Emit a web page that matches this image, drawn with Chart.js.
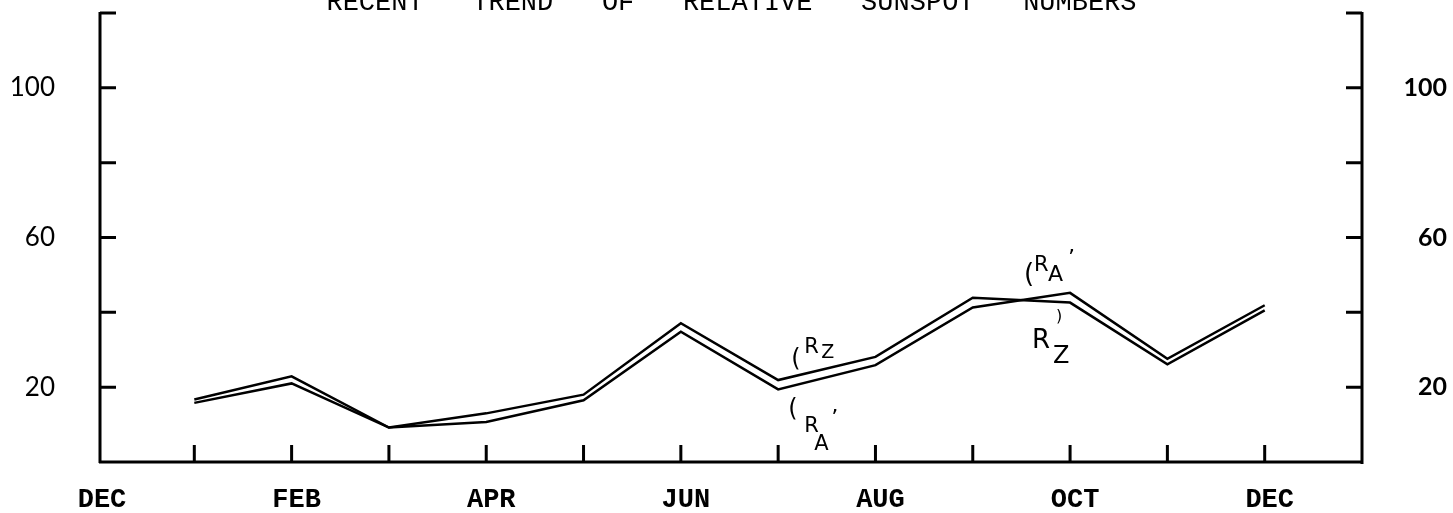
<!DOCTYPE html>
<html>
<head>
<meta charset="utf-8">
<script src="https://cdn.jsdelivr.net/npm/chart.js@4.4.1/dist/chart.umd.min.js"></script>
<style>
    html, body { margin: 0; padding: 0; background: #fff; }
    #wrap { width: 1453px; height: 513px; }
</style>
</head>
<body>
<div id="wrap"><canvas id="sunspotChart" width="1453" height="513"></canvas></div>
<script>
// data (months 1 = JAN ... 12 = DEC)
const monthPos = [1, 2, 3, 4, 5, 6, 7, 8, 9, 10, 11, 12];
const rZ = [16.7, 22.9, 9.2, 13.0, 18.0, 37.1, 21.9, 28.1, 43.9, 42.6, 26.1, 40.5];
const rA = [15.8, 21.0, 9.2, 10.7, 16.5, 34.8, 19.4, 25.9, 41.3, 45.2, 27.6, 41.9];

// tick labels
const monthLabels = ['DEC', 'FEB', 'APR', 'JUN', 'AUG', 'OCT', 'DEC'];   // at 0, 2, 4 ... 12
const yLabelValues = [20, 60, 100];
const yTickValues = [20, 40, 60, 80, 100, 120];
const titleText = 'RECENT   TREND   OF   RELATIVE   SUNSPOT   NUMBERS';

const toPoints = (ys) => monthPos.map((m, i) => ({ x: m, y: ys[i] }));

// axes frame with inward ticks + title + hand written labels
const framePlugin = {
    id: 'frame',
    afterDraw(chart) {
        const ctx = chart.ctx;
        const area = chart.chartArea;
        const xs = chart.scales.x;
        const ys = chart.scales.y;
        const L = area.left + 3, R = area.right, B = area.bottom;
        const T = ys.getPixelForValue(120);
        ctx.save();
        ctx.strokeStyle = '#000';
        ctx.lineWidth = 3;
        ctx.lineCap = 'butt';
        ctx.beginPath();
        ctx.moveTo(L, T - 1);
        ctx.lineTo(L, B + 1);
        ctx.moveTo(L - 1, B);
        ctx.lineTo(R + 1, B);
        ctx.moveTo(R, B + 2);
        ctx.lineTo(R, T - 1);
        ctx.stroke();

        ctx.beginPath();
        yTickValues.forEach(v => {
            const y = ys.getPixelForValue(v);
            ctx.moveTo(L, y);
            ctx.lineTo(L + 16, y);
            ctx.moveTo(R, y);
            ctx.lineTo(R - 16, y);
        });
        monthPos.forEach(m => {
            const x = xs.getPixelForValue(m);
            ctx.moveTo(x, B);
            ctx.lineTo(x, B - 17);
        });
        ctx.stroke();

        // title (partly cut off at the top, like the scan)
        ctx.fillStyle = '#000';
        ctx.font = '27px "Liberation Mono", monospace';
        ctx.textAlign = 'center';
        ctx.textBaseline = 'alphabetic';
        ctx.fillText(titleText, (area.left + area.right) / 2 + 2, 10);

        // hand written series labels
        ctx.textAlign = 'left';
        const txt = (s, x, y, size) => {
            ctx.font = size + 'px "DejaVu Sans", sans-serif';
            ctx.fillText(s, x, y);
        };
        const jx = xs.getPixelForValue(7);
        const jy = ys.getPixelForValue(rZ[6]);
        txt('(', jx + 13, jy - 14, 24);
        txt('R', jx + 26, jy - 27, 21);
        txt('Z', jx + 43, jy - 22, 19);
        txt('(', jx + 10, jy + 36, 24);
        txt('R', jx + 26, jy + 52, 21);
        txt('A', jx + 36, jy + 70, 21);
        txt('\u2019', jx + 53, jy + 45, 22);

        const ox = xs.getPixelForValue(10);
        const oy = ys.getPixelForValue(rA[9]);
        txt('(', ox - 46, oy - 11, 26);
        txt('R', ox - 36, oy - 22, 21);
        txt('A', ox - 22, oy - 12, 22);
        txt('\u2019', ox - 2, oy - 28, 22);
        txt(')', ox - 14, oy + 28, 16);
        txt('R', ox - 38, oy + 55, 26);
        txt('Z', ox - 17, oy + 70, 24);
        ctx.restore();
    }
};

function createSunspotChart() {
    const ctx = document.getElementById('sunspotChart');
    if (!ctx) return;

    const lineStyle = {
        borderColor: '#000',
        backgroundColor: '#000',
        borderWidth: 2.5,
        pointRadius: 0,
        tension: 0,
        fill: false
    };

    // grid hidden, but tickLength keeps the label offset from the axis
    const hiddenGrid = (len) => ({ display: false, drawTicks: true, tickLength: len });

    new Chart(ctx, {
        type: 'line',
        data: {
            datasets: [
                { label: 'RZ', data: toPoints(rZ), ...lineStyle },
                { label: "RA'", data: toPoints(rA), ...lineStyle }
            ]
        },
        options: {
            responsive: false,
            animation: false,
            layout: { padding: { top: 13, right: 6, left: 0, bottom: 0 } },
            plugins: {
                legend: { display: false },
                tooltip: { enabled: false }
            },
            scales: {
                x: {
                    type: 'linear',
                    position: 'bottom',
                    min: 0,
                    max: 13,
                    grid: hiddenGrid(25),
                    border: { display: false },
                    afterFit: (s) => { s.height = 51; },
                    ticks: {
                        stepSize: 1,
                        autoSkip: false,
                        maxRotation: 0,
                        padding: 0,
                        labelOffset: 5,
                        color: '#000',
                        font: { family: '"Liberation Mono", monospace', size: 27, weight: 'bold', lineHeight: 1 },
                        callback: (v) => (v % 2 === 0 && v <= 12) ? monthLabels[v / 2] : ''
                    }
                },
                y: {
                    position: 'left',
                    min: 0,
                    max: 120,
                    grid: hiddenGrid(42),
                    border: { display: false },
                    afterFit: (s) => { s.width = 97; },
                    ticks: {
                        stepSize: 20,
                        padding: 0,
                        color: '#000',
                        font: { family: 'Lato, sans-serif', size: 26, lineHeight: 1 },
                        callback: (v) => yLabelValues.includes(v) ? String(v) : ''
                    }
                },
                y2: {
                    position: 'right',
                    min: 0,
                    max: 120,
                    grid: hiddenGrid(40),
                    border: { display: false },
                    afterFit: (s) => { s.width = 85; },
                    ticks: {
                        stepSize: 20,
                        padding: 0,
                        crossAlign: 'far',
                        color: '#000',
                        font: { family: 'Lato, sans-serif', size: 25, weight: 'bold', lineHeight: 1 },
                        callback: (v) => yLabelValues.includes(v) ? String(v) : ''
                    }
                }
            }
        },
        plugins: [framePlugin]
    });
}

createSunspotChart();
</script>
</body>
</html>
